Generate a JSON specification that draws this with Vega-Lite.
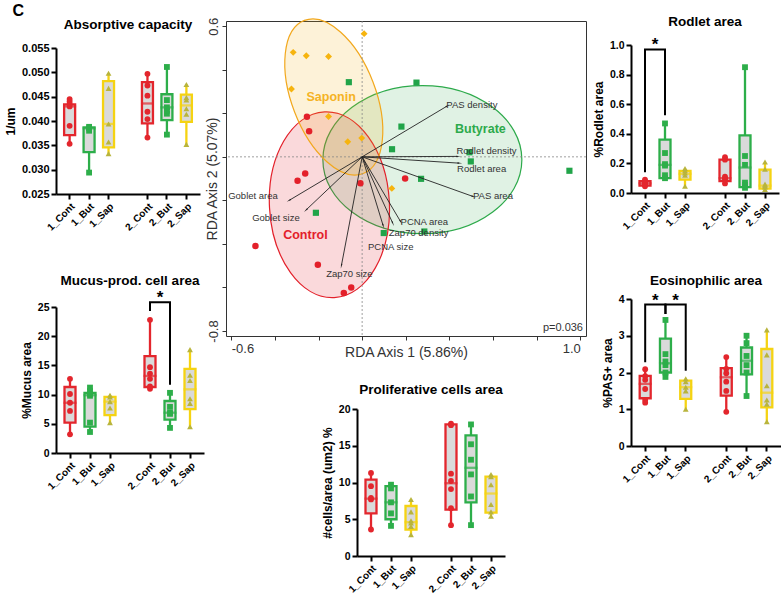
{
"$schema": "https://vega.github.io/schema/vega-lite/v6.json",
"padding": {"left": 4, "top": 2, "right": 0, "bottom": 0},
"title": {"text": "C", "anchor": "start", "frame": "bounds", "fontSize": 16, "fontWeight": "bold", "offset": -4, "dx": 8},
"config": {
  "font": "Liberation Sans",
  "view": {"stroke": null},
  "axis": {"grid": false, "domainColor": "#000", "domainWidth": 2, "tickColor": "#000", "tickWidth": 2, "tickSize": 5, "labelFontWeight": "bold", "labelFontSize": 10.5, "labelColor": "#000", "labelPadding": 2, "titleFontWeight": "bold", "titleFontSize": 12, "titleColor": "#000", "titlePadding": 4},
  "title": {"fontSize": 13.5, "fontWeight": "bold", "color": "#000", "frame": "group", "offset": 8}
},
"datasets": {
  "boxes": [
    {"p":"A","g":"1_Cont","min":0.0353,"q1":0.0371,"med":0.0430,"q3":0.0434,"max":0.0445},
    {"p":"A","g":"1_But","min":0.0294,"q1":0.0336,"med":0.0385,"q3":0.0387,"max":0.0388},
    {"p":"A","g":"1_Sap","min":0.0333,"q1":0.0346,"med":0.0394,"q3":0.0482,"max":0.0498},
    {"p":"A","g":"2_Cont","min":0.0366,"q1":0.0395,"med":0.0436,"q3":0.0480,"max":0.0497},
    {"p":"A","g":"2_But","min":0.0372,"q1":0.0402,"med":0.0428,"q3":0.0455,"max":0.0511},
    {"p":"A","g":"2_Sap","min":0.0352,"q1":0.0398,"med":0.0432,"q3":0.0454,"max":0.0475},
    {"p":"M","g":"1_Cont","min":3.2,"q1":5.2,"med":8.6,"q3":11.3,"max":12.7},
    {"p":"M","g":"1_But","min":3.6,"q1":4.5,"med":9.9,"q3":10.3,"max":11.2},
    {"p":"M","g":"1_Sap","min":5.2,"q1":6.5,"med":8.8,"q3":9.6,"max":9.9},
    {"p":"M","g":"2_Cont","min":11.0,"q1":11.3,"med":13.2,"q3":16.6,"max":22.8},
    {"p":"M","g":"2_But","min":4.3,"q1":5.7,"med":6.9,"q3":8.9,"max":10.3},
    {"p":"M","g":"2_Sap","min":4.5,"q1":7.5,"med":10.9,"q3":14.4,"max":17.7},
    {"p":"R","g":"1_Cont","min":0.045,"q1":0.05,"med":0.065,"q3":0.08,"max":0.09},
    {"p":"R","g":"1_But","min":0.10,"q1":0.10,"med":0.19,"q3":0.36,"max":0.47},
    {"p":"R","g":"1_Sap","min":0.045,"q1":0.09,"med":0.13,"q3":0.15,"max":0.165},
    {"p":"R","g":"2_Cont","min":0.065,"q1":0.08,"med":0.10,"q3":0.226,"max":0.242},
    {"p":"R","g":"2_But","min":0.035,"q1":0.04,"med":0.172,"q3":0.39,"max":0.85},
    {"p":"R","g":"2_Sap","min":0.023,"q1":0.03,"med":0.05,"q3":0.158,"max":0.21},
    {"p":"E","g":"1_Cont","min":1.18,"q1":1.3,"med":1.69,"q3":1.91,"max":2.09},
    {"p":"E","g":"1_But","min":1.88,"q1":2.0,"med":2.25,"q3":2.92,"max":3.43},
    {"p":"E","g":"1_Sap","min":1.0,"q1":1.28,"med":1.6,"q3":1.78,"max":1.83},
    {"p":"E","g":"2_Cont","min":0.93,"q1":1.37,"med":1.87,"q3":2.12,"max":2.42},
    {"p":"E","g":"2_But","min":1.36,"q1":1.95,"med":2.32,"q3":2.68,"max":3.0},
    {"p":"E","g":"2_Sap","min":0.66,"q1":1.05,"med":1.45,"q3":2.64,"max":3.16},
    {"p":"P","g":"1_Cont","min":3.6,"q1":5.8,"med":7.8,"q3":10.4,"max":11.3},
    {"p":"P","g":"1_But","min":4.1,"q1":5.0,"med":7.3,"q3":9.5,"max":9.7},
    {"p":"P","g":"1_Sap","min":2.9,"q1":3.6,"med":4.6,"q3":6.8,"max":7.7},
    {"p":"P","g":"2_Cont","min":4.2,"q1":6.3,"med":9.9,"q3":17.9,"max":18.0},
    {"p":"P","g":"2_But","min":4.2,"q1":7.3,"med":12.0,"q3":16.4,"max":17.9},
    {"p":"P","g":"2_Sap","min":5.4,"q1":5.9,"med":8.5,"q3":10.8,"max":11.1}
  ],
  "points": [
    {"p":"A","g":"1_Cont","v":0.0353},{"p":"A","g":"1_Cont","v":0.0390},{"p":"A","g":"1_Cont","v":0.0430},{"p":"A","g":"1_Cont","v":0.0435},{"p":"A","g":"1_Cont","v":0.0440},{"p":"A","g":"1_Cont","v":0.0445},
    {"p":"A","g":"1_But","v":0.0294},{"p":"A","g":"1_But","v":0.0380},{"p":"A","g":"1_But","v":0.0385},{"p":"A","g":"1_But","v":0.0388},
    {"p":"A","g":"1_Sap","v":0.0333},{"p":"A","g":"1_Sap","v":0.0357},{"p":"A","g":"1_Sap","v":0.0394},{"p":"A","g":"1_Sap","v":0.0467},{"p":"A","g":"1_Sap","v":0.0498},
    {"p":"A","g":"2_Cont","v":0.0366},{"p":"A","g":"2_Cont","v":0.0404},{"p":"A","g":"2_Cont","v":0.0419},{"p":"A","g":"2_Cont","v":0.0452},{"p":"A","g":"2_Cont","v":0.0473},{"p":"A","g":"2_Cont","v":0.0497},
    {"p":"A","g":"2_But","v":0.0372},{"p":"A","g":"2_But","v":0.0415},{"p":"A","g":"2_But","v":0.0421},{"p":"A","g":"2_But","v":0.0428},{"p":"A","g":"2_But","v":0.0443},{"p":"A","g":"2_But","v":0.0511},
    {"p":"A","g":"2_Sap","v":0.0352},{"p":"A","g":"2_Sap","v":0.0414},{"p":"A","g":"2_Sap","v":0.0425},{"p":"A","g":"2_Sap","v":0.0443},{"p":"A","g":"2_Sap","v":0.0448},{"p":"A","g":"2_Sap","v":0.0475},
    {"p":"M","g":"1_Cont","v":3.2},{"p":"M","g":"1_Cont","v":7.2},{"p":"M","g":"1_Cont","v":8.6},{"p":"M","g":"1_Cont","v":10.1},{"p":"M","g":"1_Cont","v":12.7},
    {"p":"M","g":"1_But","v":3.6},{"p":"M","g":"1_But","v":5.2},{"p":"M","g":"1_But","v":9.8},{"p":"M","g":"1_But","v":10.1},{"p":"M","g":"1_But","v":10.6},{"p":"M","g":"1_But","v":11.2},
    {"p":"M","g":"1_Sap","v":5.2},{"p":"M","g":"1_Sap","v":7.7},{"p":"M","g":"1_Sap","v":8.8},{"p":"M","g":"1_Sap","v":9.6},{"p":"M","g":"1_Sap","v":9.9},
    {"p":"M","g":"2_Cont","v":11.0},{"p":"M","g":"2_Cont","v":11.4},{"p":"M","g":"2_Cont","v":12.7},{"p":"M","g":"2_Cont","v":13.6},{"p":"M","g":"2_Cont","v":14.7},{"p":"M","g":"2_Cont","v":22.8},
    {"p":"M","g":"2_But","v":4.3},{"p":"M","g":"2_But","v":6.7},{"p":"M","g":"2_But","v":6.9},{"p":"M","g":"2_But","v":7.9},{"p":"M","g":"2_But","v":10.3},
    {"p":"M","g":"2_Sap","v":4.5},{"p":"M","g":"2_Sap","v":8.5},{"p":"M","g":"2_Sap","v":9.3},{"p":"M","g":"2_Sap","v":12.4},{"p":"M","g":"2_Sap","v":13.3},{"p":"M","g":"2_Sap","v":17.7},
    {"p":"R","g":"1_Cont","v":0.045},{"p":"R","g":"1_Cont","v":0.055},{"p":"R","g":"1_Cont","v":0.06},{"p":"R","g":"1_Cont","v":0.07},{"p":"R","g":"1_Cont","v":0.08},{"p":"R","g":"1_Cont","v":0.09},
    {"p":"R","g":"1_But","v":0.10},{"p":"R","g":"1_But","v":0.12},{"p":"R","g":"1_But","v":0.185},{"p":"R","g":"1_But","v":0.195},{"p":"R","g":"1_But","v":0.27},{"p":"R","g":"1_But","v":0.47},
    {"p":"R","g":"1_Sap","v":0.045},{"p":"R","g":"1_Sap","v":0.12},{"p":"R","g":"1_Sap","v":0.135},{"p":"R","g":"1_Sap","v":0.15},{"p":"R","g":"1_Sap","v":0.165},
    {"p":"R","g":"2_Cont","v":0.065},{"p":"R","g":"2_Cont","v":0.09},{"p":"R","g":"2_Cont","v":0.10},{"p":"R","g":"2_Cont","v":0.11},{"p":"R","g":"2_Cont","v":0.225},{"p":"R","g":"2_Cont","v":0.242},
    {"p":"R","g":"2_But","v":0.035},{"p":"R","g":"2_But","v":0.055},{"p":"R","g":"2_But","v":0.07},{"p":"R","g":"2_But","v":0.19},{"p":"R","g":"2_But","v":0.25},{"p":"R","g":"2_But","v":0.85},
    {"p":"R","g":"2_Sap","v":0.023},{"p":"R","g":"2_Sap","v":0.04},{"p":"R","g":"2_Sap","v":0.05},{"p":"R","g":"2_Sap","v":0.06},{"p":"R","g":"2_Sap","v":0.16},{"p":"R","g":"2_Sap","v":0.21},
    {"p":"E","g":"1_Cont","v":1.18},{"p":"E","g":"1_Cont","v":1.25},{"p":"E","g":"1_Cont","v":1.55},{"p":"E","g":"1_Cont","v":1.8},{"p":"E","g":"1_Cont","v":1.9},{"p":"E","g":"1_Cont","v":2.09},
    {"p":"E","g":"1_But","v":1.88},{"p":"E","g":"1_But","v":2.0},{"p":"E","g":"1_But","v":2.2},{"p":"E","g":"1_But","v":2.3},{"p":"E","g":"1_But","v":2.5},{"p":"E","g":"1_But","v":3.43},
    {"p":"E","g":"1_Sap","v":1.0},{"p":"E","g":"1_Sap","v":1.5},{"p":"E","g":"1_Sap","v":1.6},{"p":"E","g":"1_Sap","v":1.75},{"p":"E","g":"1_Sap","v":1.83},
    {"p":"E","g":"2_Cont","v":0.93},{"p":"E","g":"2_Cont","v":1.5},{"p":"E","g":"2_Cont","v":1.75},{"p":"E","g":"2_Cont","v":1.98},{"p":"E","g":"2_Cont","v":2.1},{"p":"E","g":"2_Cont","v":2.42},
    {"p":"E","g":"2_But","v":1.36},{"p":"E","g":"2_But","v":2.0},{"p":"E","g":"2_But","v":2.2},{"p":"E","g":"2_But","v":2.45},{"p":"E","g":"2_But","v":2.8},{"p":"E","g":"2_But","v":3.0},
    {"p":"E","g":"2_Sap","v":0.66},{"p":"E","g":"2_Sap","v":1.14},{"p":"E","g":"2_Sap","v":1.25},{"p":"E","g":"2_Sap","v":1.64},{"p":"E","g":"2_Sap","v":2.48},{"p":"E","g":"2_Sap","v":3.16},
    {"p":"P","g":"1_Cont","v":3.6},{"p":"P","g":"1_Cont","v":7.7},{"p":"P","g":"1_Cont","v":7.9},{"p":"P","g":"1_Cont","v":9.5},{"p":"P","g":"1_Cont","v":11.3},
    {"p":"P","g":"1_But","v":4.1},{"p":"P","g":"1_But","v":5.8},{"p":"P","g":"1_But","v":7.3},{"p":"P","g":"1_But","v":9.2},{"p":"P","g":"1_But","v":9.7},
    {"p":"P","g":"1_Sap","v":2.9},{"p":"P","g":"1_Sap","v":4.0},{"p":"P","g":"1_Sap","v":4.5},{"p":"P","g":"1_Sap","v":4.8},{"p":"P","g":"1_Sap","v":6.0},{"p":"P","g":"1_Sap","v":7.7},
    {"p":"P","g":"2_Cont","v":4.2},{"p":"P","g":"2_Cont","v":6.5},{"p":"P","g":"2_Cont","v":9.1},{"p":"P","g":"2_Cont","v":10.2},{"p":"P","g":"2_Cont","v":11.2},{"p":"P","g":"2_Cont","v":17.8},{"p":"P","g":"2_Cont","v":18.0},
    {"p":"P","g":"2_But","v":4.2},{"p":"P","g":"2_But","v":8.1},{"p":"P","g":"2_But","v":11.1},{"p":"P","g":"2_But","v":13.1},{"p":"P","g":"2_But","v":15.2},{"p":"P","g":"2_But","v":17.9},
    {"p":"P","g":"2_Sap","v":5.4},{"p":"P","g":"2_Sap","v":6.0},{"p":"P","g":"2_Sap","v":7.0},{"p":"P","g":"2_Sap","v":9.7},{"p":"P","g":"2_Sap","v":10.8},{"p":"P","g":"2_Sap","v":11.1}
  ],
  "brk": [
    {"p":"M","id":1,"o":1,"g":"2_Cont","v":24.3},{"p":"M","id":1,"o":2,"g":"2_Cont","v":25.8},{"p":"M","id":1,"o":3,"g":"2_But","v":25.8},{"p":"M","id":1,"o":4,"g":"2_But","v":11.7},
    {"p":"R","id":2,"o":1,"g":"1_Cont","v":0.14},{"p":"R","id":2,"o":2,"g":"1_Cont","v":0.97},{"p":"R","id":2,"o":3,"g":"1_But","v":0.97},{"p":"R","id":2,"o":4,"g":"1_But","v":0.525},
    {"p":"E","id":3,"o":1,"g":"1_Cont","v":2.28},{"p":"E","id":3,"o":2,"g":"1_Cont","v":3.85},{"p":"E","id":3,"o":3,"g":"1_But","v":3.85},{"p":"E","id":3,"o":4,"g":"1_But","v":3.59},
    {"p":"E","id":4,"o":1,"g":"1_But","v":3.59},{"p":"E","id":4,"o":2,"g":"1_But","v":3.85},{"p":"E","id":4,"o":3,"g":"1_Sap","v":3.85},{"p":"E","id":4,"o":4,"g":"1_Sap","v":2.05}
  ],
  "stars": [
    {"p":"M","g":"2_Cont","v":25.8},
    {"p":"R","g":"1_Cont","v":0.97},
    {"p":"E","g":"1_Cont","v":3.85},{"p":"E","g":"1_But","v":3.85}
  ],
  "rda_pts": [
    {"grp":"Saponin","x":0.009,"y":0.566},{"grp":"Saponin","x":-0.316,"y":0.480},{"grp":"Saponin","x":-0.256,"y":0.464},{"grp":"Saponin","x":-0.154,"y":0.461},{"grp":"Saponin","x":-0.324,"y":0.312},{"grp":"Saponin","x":-0.154,"y":0.185},{"grp":"Saponin","x":-0.066,"y":0.069},{"grp":"Saponin","x":-0.002,"y":0.086},{"grp":"Saponin","x":0.136,"y":-0.145},
    {"grp":"Butyrate","x":-0.061,"y":0.343},{"grp":"Butyrate","x":0.249,"y":0.341},{"grp":"Butyrate","x":0.180,"y":0.139},{"grp":"Butyrate","x":0.137,"y":0.035},{"grp":"Butyrate","x":0.492,"y":0.021},{"grp":"Butyrate","x":0.498,"y":-0.021},{"grp":"Butyrate","x":0.270,"y":-0.101},{"grp":"Butyrate","x":-0.212,"y":-0.257},{"grp":"Butyrate","x":0.099,"y":-0.350},{"grp":"Butyrate","x":0.285,"y":-0.343},{"grp":"Butyrate","x":0.950,"y":-0.064},
    {"grp":"Control","x":-0.253,"y":0.184},{"grp":"Control","x":-0.243,"y":0.118},{"grp":"Control","x":-0.261,"y":-0.077},{"grp":"Control","x":-0.296,"y":-0.110},{"grp":"Control","x":-0.008,"y":-0.121},{"grp":"Control","x":0.197,"y":-0.099},{"grp":"Control","x":-0.489,"y":-0.410},{"grp":"Control","x":-0.203,"y":-0.496},{"grp":"Control","x":-0.084,"y":-0.626},{"grp":"Control","x":-0.050,"y":-0.600}
  ],
  "rda_arr": [
    {"var":"PAS density","x":0.389,"y":0.233},
    {"var":"Rodlet density","x":0.438,"y":0.002},
    {"var":"Rodlet area","x":0.444,"y":-0.029},
    {"var":"PAS area","x":0.508,"y":-0.182},
    {"var":"PCNA area","x":0.176,"y":-0.297},
    {"var":"Zap70 density","x":0.140,"y":-0.304},
    {"var":"PCNA size","x":0.096,"y":-0.315},
    {"var":"Zap70 size","x":-0.095,"y":-0.499},
    {"var":"Goblet area","x":-0.333,"y":-0.199},
    {"var":"Goblet size","x":-0.256,"y":-0.243}
  ],
  "rda_lab": [
    {"var":"PAS density","x":0.386,"y":0.239},
    {"var":"Rodlet density","x":0.432,"y":0.029},
    {"var":"Rodlet area","x":0.435,"y":-0.058},
    {"var":"PAS area","x":0.508,"y":-0.181},
    {"var":"PCNA area","x":0.176,"y":-0.300},
    {"var":"Zap70 density","x":0.122,"y":-0.352},
    {"var":"PCNA size","x":0.027,"y":-0.416},
    {"var":"Zap70 size","x":-0.165,"y":-0.539},
    {"var":"Goblet area","x":-0.614,"y":-0.179},
    {"var":"Goblet size","x":-0.504,"y":-0.280}
  ],
  "rda_ell": [
    {"grp":"Saponin","x":-0.130,"y":0.275},
    {"grp":"Butyrate","x":0.276,"y":-0.013},
    {"grp":"Control","x":-0.150,"y":-0.220}
  ],
  "rda_grp": [
    {"grp":"Saponin","x":-0.142,"y":0.274},
    {"grp":"Butyrate","x":0.542,"y":0.129},
    {"grp":"Control","x":-0.260,"y":-0.358}
  ]
},
"concat": [
  {
    "concat": [
      {"width": 10, "height": 1, "data": {"values": []}, "mark": "point"},
      {
        "concat": [
          {
            "title": {"text": "Absorptive capacity", "offset": 11},
            "width": 144, "height": 146,
            "layer": [
              {"data": {"name": "boxes"}, "transform": [{"filter": "datum.p=='A'"}],
               "mark": {"type": "rule", "strokeWidth": 2.3},
               "encoding": {
                 "x": {"field":"g","type":"nominal","title":null,"scale":{"domain":["1_Cont","1_But","1_Sap","gap","2_Cont","2_But","2_Sap"],"paddingInner":0,"paddingOuter":0.2},"axis":{"values":["1_Cont","1_But","1_Sap","2_Cont","2_But","2_Sap"],"labelAngle":-45,"labelFontSize":10}},
                 "y": {"field":"min","type":"quantitative","title":"1/um","scale":{"domain":[0.025,0.055],"nice":false,"zero":false},"axis":{"values":[0.025,0.03,0.035,0.04,0.045,0.05,0.055],"format":".3f","labelFontSize":11}},
                 "y2": {"field":"max"},
                 "color": {"field":"g","type":"nominal","legend":null,"scale":{"domain":["1_Cont","1_But","1_Sap","2_Cont","2_But","2_Sap"],"range":["#E3262D","#2DAE4A","#F5D312","#E3262D","#2DAE4A","#F5D312"]}}
               }},
              {"data": {"name": "boxes"}, "transform": [{"filter": "datum.p=='A'"}],
               "mark": {"type": "bar", "width": 11, "fill": "#DADADA", "strokeWidth": 2.3},
               "encoding": {
                 "x": {"field":"g","type":"nominal","title":null,"scale":{"domain":["1_Cont","1_But","1_Sap","gap","2_Cont","2_But","2_Sap"],"paddingInner":0,"paddingOuter":0.2},"axis":{"values":["1_Cont","1_But","1_Sap","2_Cont","2_But","2_Sap"],"labelAngle":-45,"labelFontSize":10}},
                 "y": {"field":"q1","type":"quantitative","title":"1/um","scale":{"domain":[0.025,0.055],"nice":false,"zero":false},"axis":{"values":[0.025,0.03,0.035,0.04,0.045,0.05,0.055],"format":".3f","labelFontSize":11}},
                 "y2": {"field":"q3"},
                 "stroke": {"field":"g","type":"nominal","legend":null,"scale":{"domain":["1_Cont","1_But","1_Sap","2_Cont","2_But","2_Sap"],"range":["#E3262D","#2DAE4A","#F5D312","#E3262D","#2DAE4A","#F5D312"]}}
               }},
              {"data": {"name": "boxes"}, "transform": [{"filter": "datum.p=='A'"}],
               "mark": {"type": "tick", "thickness": 2.3, "size": 13},
               "encoding": {
                 "x": {"field":"g","type":"nominal","title":null,"scale":{"domain":["1_Cont","1_But","1_Sap","gap","2_Cont","2_But","2_Sap"],"paddingInner":0,"paddingOuter":0.2},"axis":{"values":["1_Cont","1_But","1_Sap","2_Cont","2_But","2_Sap"],"labelAngle":-45,"labelFontSize":10}},
                 "y": {"field":"med","type":"quantitative","title":"1/um","scale":{"domain":[0.025,0.055],"nice":false,"zero":false},"axis":{"values":[0.025,0.03,0.035,0.04,0.045,0.05,0.055],"format":".3f","labelFontSize":11}},
                 "color": {"field":"g","type":"nominal","legend":null,"scale":{"domain":["1_Cont","1_But","1_Sap","2_Cont","2_But","2_Sap"],"range":["#E3262D","#2DAE4A","#F5D312","#E3262D","#2DAE4A","#F5D312"]}}
               }},
              {"data": {"name": "points"}, "transform": [{"filter": "datum.p=='A'"}],
               "mark": {"type": "point", "filled": true, "size": 34, "opacity": 1},
               "encoding": {
                 "x": {"field":"g","type":"nominal","title":null,"scale":{"domain":["1_Cont","1_But","1_Sap","gap","2_Cont","2_But","2_Sap"],"paddingInner":0,"paddingOuter":0.2},"axis":{"values":["1_Cont","1_But","1_Sap","2_Cont","2_But","2_Sap"],"labelAngle":-45,"labelFontSize":10}},
                 "y": {"field":"v","type":"quantitative","title":"1/um","scale":{"domain":[0.025,0.055],"nice":false,"zero":false},"axis":{"values":[0.025,0.03,0.035,0.04,0.045,0.05,0.055],"format":".3f","labelFontSize":11}},
                 "fill": {"field":"g","type":"nominal","legend":null,"scale":{"domain":["1_Cont","1_But","1_Sap","2_Cont","2_But","2_Sap"],"range":["#E3262D","#2DAE4A","#B8B43C","#E3262D","#2DAE4A","#B8B43C"]}},
                 "shape": {"field":"g","type":"nominal","legend":null,"scale":{"domain":["1_Cont","1_But","1_Sap","2_Cont","2_But","2_Sap"],"range":["circle","square","triangle-up","circle","square","triangle-up"]}}
               }}
            ]
          },
          {
            "title": {"text": "Mucus-prod. cell area", "offset": 2},
            "width": 148, "height": 146,
            "layer": [
              {"data": {"name": "boxes"}, "transform": [{"filter": "datum.p=='M'"}],
               "mark": {"type": "rule", "strokeWidth": 2.3},
               "encoding": {
                 "x": {"field":"g","type":"nominal","title":null,"scale":{"domain":["1_Cont","1_But","1_Sap","gap","2_Cont","2_But","2_Sap"],"paddingInner":0,"paddingOuter":0.2},"axis":{"values":["1_Cont","1_But","1_Sap","2_Cont","2_But","2_Sap"],"labelAngle":-45,"labelFontSize":10}},
                 "y": {"field":"min","type":"quantitative","title":"%Mucus area","scale":{"domain":[0,25],"nice":false},"axis":{"values":[0,5,10,15,20,25]}},
                 "y2": {"field":"max"},
                 "color": {"field":"g","type":"nominal","legend":null,"scale":{"domain":["1_Cont","1_But","1_Sap","2_Cont","2_But","2_Sap"],"range":["#E3262D","#2DAE4A","#F5D312","#E3262D","#2DAE4A","#F5D312"]}}
               }},
              {"data": {"name": "boxes"}, "transform": [{"filter": "datum.p=='M'"}],
               "mark": {"type": "bar", "width": 11, "fill": "#DADADA", "strokeWidth": 2.3},
               "encoding": {
                 "x": {"field":"g","type":"nominal","title":null,"scale":{"domain":["1_Cont","1_But","1_Sap","gap","2_Cont","2_But","2_Sap"],"paddingInner":0,"paddingOuter":0.2},"axis":{"values":["1_Cont","1_But","1_Sap","2_Cont","2_But","2_Sap"],"labelAngle":-45,"labelFontSize":10}},
                 "y": {"field":"q1","type":"quantitative","title":"%Mucus area","scale":{"domain":[0,25],"nice":false},"axis":{"values":[0,5,10,15,20,25]}},
                 "y2": {"field":"q3"},
                 "stroke": {"field":"g","type":"nominal","legend":null,"scale":{"domain":["1_Cont","1_But","1_Sap","2_Cont","2_But","2_Sap"],"range":["#E3262D","#2DAE4A","#F5D312","#E3262D","#2DAE4A","#F5D312"]}}
               }},
              {"data": {"name": "boxes"}, "transform": [{"filter": "datum.p=='M'"}],
               "mark": {"type": "tick", "thickness": 2.3, "size": 13},
               "encoding": {
                 "x": {"field":"g","type":"nominal","title":null,"scale":{"domain":["1_Cont","1_But","1_Sap","gap","2_Cont","2_But","2_Sap"],"paddingInner":0,"paddingOuter":0.2},"axis":{"values":["1_Cont","1_But","1_Sap","2_Cont","2_But","2_Sap"],"labelAngle":-45,"labelFontSize":10}},
                 "y": {"field":"med","type":"quantitative","title":"%Mucus area","scale":{"domain":[0,25],"nice":false},"axis":{"values":[0,5,10,15,20,25]}},
                 "color": {"field":"g","type":"nominal","legend":null,"scale":{"domain":["1_Cont","1_But","1_Sap","2_Cont","2_But","2_Sap"],"range":["#E3262D","#2DAE4A","#F5D312","#E3262D","#2DAE4A","#F5D312"]}}
               }},
              {"data": {"name": "points"}, "transform": [{"filter": "datum.p=='M'"}],
               "mark": {"type": "point", "filled": true, "size": 34, "opacity": 1},
               "encoding": {
                 "x": {"field":"g","type":"nominal","title":null,"scale":{"domain":["1_Cont","1_But","1_Sap","gap","2_Cont","2_But","2_Sap"],"paddingInner":0,"paddingOuter":0.2},"axis":{"values":["1_Cont","1_But","1_Sap","2_Cont","2_But","2_Sap"],"labelAngle":-45,"labelFontSize":10}},
                 "y": {"field":"v","type":"quantitative","title":"%Mucus area","scale":{"domain":[0,25],"nice":false},"axis":{"values":[0,5,10,15,20,25]}},
                 "fill": {"field":"g","type":"nominal","legend":null,"scale":{"domain":["1_Cont","1_But","1_Sap","2_Cont","2_But","2_Sap"],"range":["#E3262D","#2DAE4A","#B8B43C","#E3262D","#2DAE4A","#B8B43C"]}},
                 "shape": {"field":"g","type":"nominal","legend":null,"scale":{"domain":["1_Cont","1_But","1_Sap","2_Cont","2_But","2_Sap"],"range":["circle","square","triangle-up","circle","square","triangle-up"]}}
               }},
              {"data": {"name": "brk"}, "transform": [{"filter": "datum.p=='M'"}],
               "mark": {"type": "line", "color": "#000", "strokeWidth": 2, "strokeJoin": "miter"},
               "encoding": {
                 "x": {"field":"g","type":"nominal","title":null,"scale":{"domain":["1_Cont","1_But","1_Sap","gap","2_Cont","2_But","2_Sap"],"paddingInner":0,"paddingOuter":0.2},"axis":{"values":["1_Cont","1_But","1_Sap","2_Cont","2_But","2_Sap"],"labelAngle":-45,"labelFontSize":10}},
                 "y": {"field":"v","type":"quantitative","title":"%Mucus area","scale":{"domain":[0,25],"nice":false},"axis":{"values":[0,5,10,15,20,25]}},
                 "detail": {"field":"id"},
                 "order": {"field":"o"}
               }},
              {"data": {"name": "stars"}, "transform": [{"filter": "datum.p=='M'"}],
               "mark": {"type": "text", "text": "*", "fontSize": 17, "fontWeight": "bold", "dx": 10, "dy": 1, "baseline": "alphabetic", "color": "#000"},
               "encoding": {
                 "x": {"field":"g","type":"nominal","title":null,"scale":{"domain":["1_Cont","1_But","1_Sap","gap","2_Cont","2_But","2_Sap"],"paddingInner":0,"paddingOuter":0.2},"axis":{"values":["1_Cont","1_But","1_Sap","2_Cont","2_But","2_Sap"],"labelAngle":-45,"labelFontSize":10}},
                 "y": {"field":"v","type":"quantitative","title":"%Mucus area","scale":{"domain":[0,25],"nice":false},"axis":{"values":[0,5,10,15,20,25]}}
               }}
            ]
          }
        ],
        "columns": 1, "align": "none", "spacing": 40
      }
    ],
    "columns": 1, "align": "none", "spacing": -5
  },
  {
    "concat": [
      {
        "width": 360, "height": 315,
        "view": {"stroke": "#333", "strokeWidth": 1},
        "layer": [
          {"data": {"name": "rda_ell"}, "transform": [{"filter": "datum.grp=='Butyrate'"}],
           "mark": {"type": "point", "shape": "M-1,0C-1,-0.411,-0.552,-0.744,0,-0.744C0.552,-0.744,1,-0.411,1,0C1,0.411,0.552,0.744,0,0.744C-0.552,0.744,-1,0.411,-1,0Z", "size": 39601, "angle": 0, "filled": true, "fill": "#2DAA4B", "fillOpacity": 0.15, "stroke": "#2DAA4B", "strokeWidth": 1.2, "strokeOpacity": 1, "opacity": 1},
           "encoding": {
             "x": {"field":"x","type":"quantitative","scale":{"domain":[-0.624,1.026],"nice":false,"zero":false},"axis":{"title":"RDA Axis 1 (5.86%)","values":[-0.6,-0.4,-0.2,0,0.2,0.4,0.6,0.8,1],"labelExpr":"abs(datum.value+0.6)<0.001 ? '-0.6' : (abs(datum.value-1)<0.001 ? '1.0' : '')","domain":false,"tickColor":"#333","tickWidth":1,"tickSize":4,"labelFontWeight":"normal","labelFontSize":13,"labelColor":"#333","labelPadding":2,"labelFlush":8,"titleFontWeight":"normal","titleFontSize":14,"titleColor":"#333","titleY":9,"titleBaseline":"top"}},
             "y": {"field":"y","type":"quantitative","scale":{"domain":[-0.823,0.624],"nice":false,"zero":false},"axis":{"title":"RDA Axis 2 (5.07%)","values":[-0.8,-0.6,-0.4,-0.2,0,0.2,0.4,0.6],"labelExpr":"abs(datum.value-0.6)<0.001 ? '0.6' : (abs(datum.value+0.8)<0.001 ? '-0.8' : '')","domain":false,"tickColor":"#333","tickWidth":1,"tickSize":4,"labelFontWeight":"normal","labelFontSize":13,"labelColor":"#333","labelPadding":2,"labelAngle":270,"labelAlign":"center","labelBaseline":"bottom","titleFontWeight":"normal","titleFontSize":14,"titleColor":"#333","titleX":-14,"titleBaseline":"middle"}}
           }},
          {"data": {"name": "rda_ell"}, "transform": [{"filter": "datum.grp=='Control'"}],
           "mark": {"type": "point", "shape": "M-1,0C-1,-0.356,-0.552,-0.645,0,-0.645C0.552,-0.645,1,-0.356,1,0C1,0.356,0.552,0.645,0,0.645C-0.552,0.645,-1,0.356,-1,0Z", "size": 34596, "angle": 87, "filled": true, "fill": "#E3202A", "fillOpacity": 0.17, "stroke": "#E3202A", "strokeWidth": 1.2, "strokeOpacity": 1, "opacity": 1},
           "encoding": {"x": {"field":"x","type":"quantitative"}, "y": {"field":"y","type":"quantitative"}}},
          {"data": {"name": "rda_ell"}, "transform": [{"filter": "datum.grp=='Saponin'"}],
           "mark": {"type": "point", "shape": "M-1,0C-1,-0.283,-0.552,-0.512,0,-0.512C0.552,-0.512,1,-0.283,1,0C1,0.283,0.552,0.512,0,0.512C-0.552,0.512,-1,0.283,-1,0Z", "size": 26896, "angle": 69, "filled": true, "fill": "#F5B21A", "fillOpacity": 0.17, "stroke": "#F2A81D", "strokeWidth": 1.2, "strokeOpacity": 1, "opacity": 1},
           "encoding": {"x": {"field":"x","type":"quantitative"}, "y": {"field":"y","type":"quantitative"}}},
          {"data": {"values": [{}]},
           "mark": {"type": "rule", "color": "#888", "strokeWidth": 0.8, "strokeDash": [2, 2]},
           "encoding": {"x": {"datum": 0, "type": "quantitative"}}},
          {"data": {"values": [{}]},
           "mark": {"type": "rule", "color": "#888", "strokeWidth": 0.8, "strokeDash": [2, 2]},
           "encoding": {"y": {"datum": 0, "type": "quantitative"}}},
          {"data": {"name": "rda_pts"}, "transform": [{"filter": "datum.grp=='Control'"}],
           "mark": {"type": "point", "shape": "circle", "filled": true, "size": 42, "color": "#E3202A", "opacity": 1},
           "encoding": {"x": {"field":"x","type":"quantitative"}, "y": {"field":"y","type":"quantitative"}}},
          {"data": {"name": "rda_pts"}, "transform": [{"filter": "datum.grp=='Butyrate'"}],
           "mark": {"type": "point", "shape": "square", "filled": true, "size": 38, "color": "#21A449", "opacity": 1},
           "encoding": {"x": {"field":"x","type":"quantitative"}, "y": {"field":"y","type":"quantitative"}}},
          {"data": {"name": "rda_pts"}, "transform": [{"filter": "datum.grp=='Saponin'"}],
           "mark": {"type": "point", "shape": "diamond", "filled": true, "size": 48, "color": "#F6B40E", "opacity": 1},
           "encoding": {"x": {"field":"x","type":"quantitative"}, "y": {"field":"y","type":"quantitative"}}},
          {"data": {"name": "rda_arr"},
           "mark": {"type": "rule", "color": "#222", "strokeWidth": 0.9},
           "encoding": {"x": {"field":"x","type":"quantitative"}, "y": {"field":"y","type":"quantitative"}, "x2": {"datum": 0}, "y2": {"datum": 0}}},
          {"data": {"name": "rda_arr"}, "transform": [{"calculate": "atan2(datum.x, datum.y)*180/PI", "as": "ang"}],
           "mark": {"type": "point", "shape": "wedge", "filled": true, "size": 30, "color": "#222", "opacity": 1},
           "encoding": {"x": {"field":"x","type":"quantitative"}, "y": {"field":"y","type":"quantitative"}, "angle": {"field": "ang", "type": "quantitative", "scale": null}}},
          {"data": {"name": "rda_lab"},
           "mark": {"type": "text", "align": "left", "baseline": "middle", "fontSize": 9.5, "color": "#333"},
           "encoding": {"x": {"field":"x","type":"quantitative"}, "y": {"field":"y","type":"quantitative"}, "text": {"field": "var"}}},
          {"data": {"name": "rda_grp"}, "transform": [{"filter": "datum.grp=='Saponin'"}],
           "mark": {"type": "text", "fontSize": 12.5, "fontWeight": "bold", "color": "#F5B324"},
           "encoding": {"x": {"field":"x","type":"quantitative"}, "y": {"field":"y","type":"quantitative"}, "text": {"field": "grp"}}},
          {"data": {"name": "rda_grp"}, "transform": [{"filter": "datum.grp=='Butyrate'"}],
           "mark": {"type": "text", "fontSize": 12.5, "fontWeight": "bold", "color": "#2DAA4B"},
           "encoding": {"x": {"field":"x","type":"quantitative"}, "y": {"field":"y","type":"quantitative"}, "text": {"field": "grp"}}},
          {"data": {"name": "rda_grp"}, "transform": [{"filter": "datum.grp=='Control'"}],
           "mark": {"type": "text", "fontSize": 12.5, "fontWeight": "bold", "color": "#E3202A"},
           "encoding": {"x": {"field":"x","type":"quantitative"}, "y": {"field":"y","type":"quantitative"}, "text": {"field": "grp"}}},
          {"data": {"values": [{}]},
           "mark": {"type": "text", "text": "p=0.036", "align": "right", "baseline": "bottom", "fontSize": 11, "color": "#333", "dx": -3, "dy": -3},
           "encoding": {"x": {"datum": 1.026, "type": "quantitative"}, "y": {"datum": -0.823, "type": "quantitative"}}}
        ]
      },
      {
        "concat": [
          {"width": 95, "height": 10, "data": {"values": []}, "mark": "point"},
          {
            "title": {"text": "Proliferative cells area"},
            "width": 148, "height": 147,
            "layer": [
              {"data": {"name": "boxes"}, "transform": [{"filter": "datum.p=='P'"}],
               "mark": {"type": "rule", "strokeWidth": 2.3},
               "encoding": {
                 "x": {"field":"g","type":"nominal","title":null,"scale":{"domain":["1_Cont","1_But","1_Sap","gap","2_Cont","2_But","2_Sap"],"paddingInner":0,"paddingOuter":0.2},"axis":{"values":["1_Cont","1_But","1_Sap","2_Cont","2_But","2_Sap"],"labelAngle":-45,"labelFontSize":10}},
                 "y": {"field":"min","type":"quantitative","title":"#cells/area (um2) %","scale":{"domain":[0,20],"nice":false},"axis":{"values":[0,5,10,15,20]}},
                 "y2": {"field":"max"},
                 "color": {"field":"g","type":"nominal","legend":null,"scale":{"domain":["1_Cont","1_But","1_Sap","2_Cont","2_But","2_Sap"],"range":["#E3262D","#2DAE4A","#F5D312","#E3262D","#2DAE4A","#F5D312"]}}
               }},
              {"data": {"name": "boxes"}, "transform": [{"filter": "datum.p=='P'"}],
               "mark": {"type": "bar", "width": 11, "fill": "#DADADA", "strokeWidth": 2.3},
               "encoding": {
                 "x": {"field":"g","type":"nominal","title":null,"scale":{"domain":["1_Cont","1_But","1_Sap","gap","2_Cont","2_But","2_Sap"],"paddingInner":0,"paddingOuter":0.2},"axis":{"values":["1_Cont","1_But","1_Sap","2_Cont","2_But","2_Sap"],"labelAngle":-45,"labelFontSize":10}},
                 "y": {"field":"q1","type":"quantitative","title":"#cells/area (um2) %","scale":{"domain":[0,20],"nice":false},"axis":{"values":[0,5,10,15,20]}},
                 "y2": {"field":"q3"},
                 "stroke": {"field":"g","type":"nominal","legend":null,"scale":{"domain":["1_Cont","1_But","1_Sap","2_Cont","2_But","2_Sap"],"range":["#E3262D","#2DAE4A","#F5D312","#E3262D","#2DAE4A","#F5D312"]}}
               }},
              {"data": {"name": "boxes"}, "transform": [{"filter": "datum.p=='P'"}],
               "mark": {"type": "tick", "thickness": 2.3, "size": 13},
               "encoding": {
                 "x": {"field":"g","type":"nominal","title":null,"scale":{"domain":["1_Cont","1_But","1_Sap","gap","2_Cont","2_But","2_Sap"],"paddingInner":0,"paddingOuter":0.2},"axis":{"values":["1_Cont","1_But","1_Sap","2_Cont","2_But","2_Sap"],"labelAngle":-45,"labelFontSize":10}},
                 "y": {"field":"med","type":"quantitative","title":"#cells/area (um2) %","scale":{"domain":[0,20],"nice":false},"axis":{"values":[0,5,10,15,20]}},
                 "color": {"field":"g","type":"nominal","legend":null,"scale":{"domain":["1_Cont","1_But","1_Sap","2_Cont","2_But","2_Sap"],"range":["#E3262D","#2DAE4A","#F5D312","#E3262D","#2DAE4A","#F5D312"]}}
               }},
              {"data": {"name": "points"}, "transform": [{"filter": "datum.p=='P'"}],
               "mark": {"type": "point", "filled": true, "size": 34, "opacity": 1},
               "encoding": {
                 "x": {"field":"g","type":"nominal","title":null,"scale":{"domain":["1_Cont","1_But","1_Sap","gap","2_Cont","2_But","2_Sap"],"paddingInner":0,"paddingOuter":0.2},"axis":{"values":["1_Cont","1_But","1_Sap","2_Cont","2_But","2_Sap"],"labelAngle":-45,"labelFontSize":10}},
                 "y": {"field":"v","type":"quantitative","title":"#cells/area (um2) %","scale":{"domain":[0,20],"nice":false},"axis":{"values":[0,5,10,15,20]}},
                 "fill": {"field":"g","type":"nominal","legend":null,"scale":{"domain":["1_Cont","1_But","1_Sap","2_Cont","2_But","2_Sap"],"range":["#E3262D","#2DAE4A","#B8B43C","#E3262D","#2DAE4A","#B8B43C"]}},
                 "shape": {"field":"g","type":"nominal","legend":null,"scale":{"domain":["1_Cont","1_But","1_Sap","2_Cont","2_But","2_Sap"],"range":["circle","square","triangle-up","circle","square","triangle-up"]}}
               }}
            ]
          },
          {"width": 87, "height": 10, "data": {"values": []}, "mark": "point"}
        ],
        "columns": 3, "align": "none", "spacing": 0
      }
    ],
    "columns": 1, "align": "none", "spacing": 22
  },
  {
    "concat": [
      {"width": 10, "height": 1, "data": {"values": []}, "mark": "point"},
      {
        "concat": [
          {
            "title": {"text": "Rodlet area", "offset": 8},
            "width": 148, "height": 148,
            "layer": [
              {"data": {"name": "boxes"}, "transform": [{"filter": "datum.p=='R'"}],
               "mark": {"type": "rule", "strokeWidth": 2.3},
               "encoding": {
                 "x": {"field":"g","type":"nominal","title":null,"scale":{"domain":["1_Cont","1_But","1_Sap","gap","2_Cont","2_But","2_Sap"],"paddingInner":0,"paddingOuter":0.2},"axis":{"values":["1_Cont","1_But","1_Sap","2_Cont","2_But","2_Sap"],"labelAngle":-45,"labelFontSize":10}},
                 "y": {"field":"min","type":"quantitative","title":"%Rodlet area","scale":{"domain":[0,1],"nice":false},"axis":{"values":[0,0.2,0.4,0.6,0.8,1],"format":".1f"}},
                 "y2": {"field":"max"},
                 "color": {"field":"g","type":"nominal","legend":null,"scale":{"domain":["1_Cont","1_But","1_Sap","2_Cont","2_But","2_Sap"],"range":["#E3262D","#2DAE4A","#F5D312","#E3262D","#2DAE4A","#F5D312"]}}
               }},
              {"data": {"name": "boxes"}, "transform": [{"filter": "datum.p=='R'"}],
               "mark": {"type": "bar", "width": 11, "fill": "#DADADA", "strokeWidth": 2.3},
               "encoding": {
                 "x": {"field":"g","type":"nominal","title":null,"scale":{"domain":["1_Cont","1_But","1_Sap","gap","2_Cont","2_But","2_Sap"],"paddingInner":0,"paddingOuter":0.2},"axis":{"values":["1_Cont","1_But","1_Sap","2_Cont","2_But","2_Sap"],"labelAngle":-45,"labelFontSize":10}},
                 "y": {"field":"q1","type":"quantitative","title":"%Rodlet area","scale":{"domain":[0,1],"nice":false},"axis":{"values":[0,0.2,0.4,0.6,0.8,1],"format":".1f"}},
                 "y2": {"field":"q3"},
                 "stroke": {"field":"g","type":"nominal","legend":null,"scale":{"domain":["1_Cont","1_But","1_Sap","2_Cont","2_But","2_Sap"],"range":["#E3262D","#2DAE4A","#F5D312","#E3262D","#2DAE4A","#F5D312"]}}
               }},
              {"data": {"name": "boxes"}, "transform": [{"filter": "datum.p=='R'"}],
               "mark": {"type": "tick", "thickness": 2.3, "size": 13},
               "encoding": {
                 "x": {"field":"g","type":"nominal","title":null,"scale":{"domain":["1_Cont","1_But","1_Sap","gap","2_Cont","2_But","2_Sap"],"paddingInner":0,"paddingOuter":0.2},"axis":{"values":["1_Cont","1_But","1_Sap","2_Cont","2_But","2_Sap"],"labelAngle":-45,"labelFontSize":10}},
                 "y": {"field":"med","type":"quantitative","title":"%Rodlet area","scale":{"domain":[0,1],"nice":false},"axis":{"values":[0,0.2,0.4,0.6,0.8,1],"format":".1f"}},
                 "color": {"field":"g","type":"nominal","legend":null,"scale":{"domain":["1_Cont","1_But","1_Sap","2_Cont","2_But","2_Sap"],"range":["#E3262D","#2DAE4A","#F5D312","#E3262D","#2DAE4A","#F5D312"]}}
               }},
              {"data": {"name": "points"}, "transform": [{"filter": "datum.p=='R'"}],
               "mark": {"type": "point", "filled": true, "size": 34, "opacity": 1},
               "encoding": {
                 "x": {"field":"g","type":"nominal","title":null,"scale":{"domain":["1_Cont","1_But","1_Sap","gap","2_Cont","2_But","2_Sap"],"paddingInner":0,"paddingOuter":0.2},"axis":{"values":["1_Cont","1_But","1_Sap","2_Cont","2_But","2_Sap"],"labelAngle":-45,"labelFontSize":10}},
                 "y": {"field":"v","type":"quantitative","title":"%Rodlet area","scale":{"domain":[0,1],"nice":false},"axis":{"values":[0,0.2,0.4,0.6,0.8,1],"format":".1f"}},
                 "fill": {"field":"g","type":"nominal","legend":null,"scale":{"domain":["1_Cont","1_But","1_Sap","2_Cont","2_But","2_Sap"],"range":["#E3262D","#2DAE4A","#B8B43C","#E3262D","#2DAE4A","#B8B43C"]}},
                 "shape": {"field":"g","type":"nominal","legend":null,"scale":{"domain":["1_Cont","1_But","1_Sap","2_Cont","2_But","2_Sap"],"range":["circle","square","triangle-up","circle","square","triangle-up"]}}
               }},
              {"data": {"name": "brk"}, "transform": [{"filter": "datum.p=='R'"}],
               "mark": {"type": "line", "color": "#000", "strokeWidth": 2, "strokeJoin": "miter"},
               "encoding": {
                 "x": {"field":"g","type":"nominal","title":null,"scale":{"domain":["1_Cont","1_But","1_Sap","gap","2_Cont","2_But","2_Sap"],"paddingInner":0,"paddingOuter":0.2},"axis":{"values":["1_Cont","1_But","1_Sap","2_Cont","2_But","2_Sap"],"labelAngle":-45,"labelFontSize":10}},
                 "y": {"field":"v","type":"quantitative","title":"%Rodlet area","scale":{"domain":[0,1],"nice":false},"axis":{"values":[0,0.2,0.4,0.6,0.8,1],"format":".1f"}},
                 "detail": {"field":"id"},
                 "order": {"field":"o"}
               }},
              {"data": {"name": "stars"}, "transform": [{"filter": "datum.p=='R'"}],
               "mark": {"type": "text", "text": "*", "fontSize": 17, "fontWeight": "bold", "dx": 10, "dy": 1, "baseline": "alphabetic", "color": "#000"},
               "encoding": {
                 "x": {"field":"g","type":"nominal","title":null,"scale":{"domain":["1_Cont","1_But","1_Sap","gap","2_Cont","2_But","2_Sap"],"paddingInner":0,"paddingOuter":0.2},"axis":{"values":["1_Cont","1_But","1_Sap","2_Cont","2_But","2_Sap"],"labelAngle":-45,"labelFontSize":10}},
                 "y": {"field":"v","type":"quantitative","title":"%Rodlet area","scale":{"domain":[0,1],"nice":false},"axis":{"values":[0,0.2,0.4,0.6,0.8,1],"format":".1f"}}
               }}
            ]
          },
          {
            "title": {"text": "Eosinophilic area", "offset": 4},
            "width": 150, "height": 147,
            "layer": [
              {"data": {"name": "boxes"}, "transform": [{"filter": "datum.p=='E'"}],
               "mark": {"type": "rule", "strokeWidth": 2.3},
               "encoding": {
                 "x": {"field":"g","type":"nominal","title":null,"scale":{"domain":["1_Cont","1_But","1_Sap","gap","2_Cont","2_But","2_Sap"],"paddingInner":0,"paddingOuter":0.2},"axis":{"values":["1_Cont","1_But","1_Sap","2_Cont","2_But","2_Sap"],"labelAngle":-45,"labelFontSize":10}},
                 "y": {"field":"min","type":"quantitative","title":"%PAS+ area","scale":{"domain":[0,4],"nice":false},"axis":{"values":[0,1,2,3,4]}},
                 "y2": {"field":"max"},
                 "color": {"field":"g","type":"nominal","legend":null,"scale":{"domain":["1_Cont","1_But","1_Sap","2_Cont","2_But","2_Sap"],"range":["#E3262D","#2DAE4A","#F5D312","#E3262D","#2DAE4A","#F5D312"]}}
               }},
              {"data": {"name": "boxes"}, "transform": [{"filter": "datum.p=='E'"}],
               "mark": {"type": "bar", "width": 11, "fill": "#DADADA", "strokeWidth": 2.3},
               "encoding": {
                 "x": {"field":"g","type":"nominal","title":null,"scale":{"domain":["1_Cont","1_But","1_Sap","gap","2_Cont","2_But","2_Sap"],"paddingInner":0,"paddingOuter":0.2},"axis":{"values":["1_Cont","1_But","1_Sap","2_Cont","2_But","2_Sap"],"labelAngle":-45,"labelFontSize":10}},
                 "y": {"field":"q1","type":"quantitative","title":"%PAS+ area","scale":{"domain":[0,4],"nice":false},"axis":{"values":[0,1,2,3,4]}},
                 "y2": {"field":"q3"},
                 "stroke": {"field":"g","type":"nominal","legend":null,"scale":{"domain":["1_Cont","1_But","1_Sap","2_Cont","2_But","2_Sap"],"range":["#E3262D","#2DAE4A","#F5D312","#E3262D","#2DAE4A","#F5D312"]}}
               }},
              {"data": {"name": "boxes"}, "transform": [{"filter": "datum.p=='E'"}],
               "mark": {"type": "tick", "thickness": 2.3, "size": 13},
               "encoding": {
                 "x": {"field":"g","type":"nominal","title":null,"scale":{"domain":["1_Cont","1_But","1_Sap","gap","2_Cont","2_But","2_Sap"],"paddingInner":0,"paddingOuter":0.2},"axis":{"values":["1_Cont","1_But","1_Sap","2_Cont","2_But","2_Sap"],"labelAngle":-45,"labelFontSize":10}},
                 "y": {"field":"med","type":"quantitative","title":"%PAS+ area","scale":{"domain":[0,4],"nice":false},"axis":{"values":[0,1,2,3,4]}},
                 "color": {"field":"g","type":"nominal","legend":null,"scale":{"domain":["1_Cont","1_But","1_Sap","2_Cont","2_But","2_Sap"],"range":["#E3262D","#2DAE4A","#F5D312","#E3262D","#2DAE4A","#F5D312"]}}
               }},
              {"data": {"name": "points"}, "transform": [{"filter": "datum.p=='E'"}],
               "mark": {"type": "point", "filled": true, "size": 34, "opacity": 1},
               "encoding": {
                 "x": {"field":"g","type":"nominal","title":null,"scale":{"domain":["1_Cont","1_But","1_Sap","gap","2_Cont","2_But","2_Sap"],"paddingInner":0,"paddingOuter":0.2},"axis":{"values":["1_Cont","1_But","1_Sap","2_Cont","2_But","2_Sap"],"labelAngle":-45,"labelFontSize":10}},
                 "y": {"field":"v","type":"quantitative","title":"%PAS+ area","scale":{"domain":[0,4],"nice":false},"axis":{"values":[0,1,2,3,4]}},
                 "fill": {"field":"g","type":"nominal","legend":null,"scale":{"domain":["1_Cont","1_But","1_Sap","2_Cont","2_But","2_Sap"],"range":["#E3262D","#2DAE4A","#B8B43C","#E3262D","#2DAE4A","#B8B43C"]}},
                 "shape": {"field":"g","type":"nominal","legend":null,"scale":{"domain":["1_Cont","1_But","1_Sap","2_Cont","2_But","2_Sap"],"range":["circle","square","triangle-up","circle","square","triangle-up"]}}
               }},
              {"data": {"name": "brk"}, "transform": [{"filter": "datum.p=='E'"}],
               "mark": {"type": "line", "color": "#000", "strokeWidth": 2, "strokeJoin": "miter"},
               "encoding": {
                 "x": {"field":"g","type":"nominal","title":null,"scale":{"domain":["1_Cont","1_But","1_Sap","gap","2_Cont","2_But","2_Sap"],"paddingInner":0,"paddingOuter":0.2},"axis":{"values":["1_Cont","1_But","1_Sap","2_Cont","2_But","2_Sap"],"labelAngle":-45,"labelFontSize":10}},
                 "y": {"field":"v","type":"quantitative","title":"%PAS+ area","scale":{"domain":[0,4],"nice":false},"axis":{"values":[0,1,2,3,4]}},
                 "detail": {"field":"id"},
                 "order": {"field":"o"}
               }},
              {"data": {"name": "stars"}, "transform": [{"filter": "datum.p=='E'"}],
               "mark": {"type": "text", "text": "*", "fontSize": 17, "fontWeight": "bold", "dx": 10, "dy": 1, "baseline": "alphabetic", "color": "#000"},
               "encoding": {
                 "x": {"field":"g","type":"nominal","title":null,"scale":{"domain":["1_Cont","1_But","1_Sap","gap","2_Cont","2_But","2_Sap"],"paddingInner":0,"paddingOuter":0.2},"axis":{"values":["1_Cont","1_But","1_Sap","2_Cont","2_But","2_Sap"],"labelAngle":-45,"labelFontSize":10}},
                 "y": {"field":"v","type":"quantitative","title":"%PAS+ area","scale":{"domain":[0,4],"nice":false},"axis":{"values":[0,1,2,3,4]}}
               }}
            ]
          }
        ],
        "columns": 1, "align": "none", "spacing": 42
      }
    ],
    "columns": 1, "align": "none", "spacing": -8
  }
],
"columns": 3, "align": "none", "spacing": 0
}
